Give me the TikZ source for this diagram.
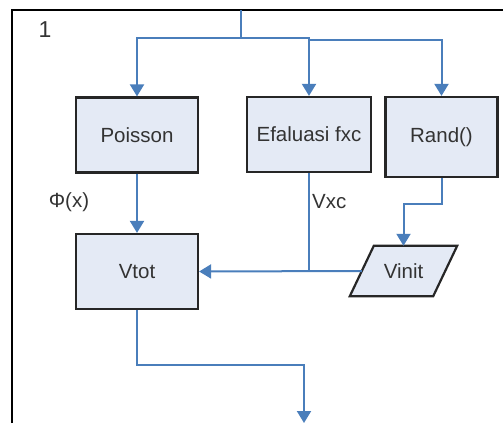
\documentclass[tikz,border=0pt]{standalone}
\usepackage{fontspec}
\setmainfont{Liberation Sans}
\usetikzlibrary{arrows.meta,calc}
\definecolor{flowblue}{HTML}{4A7EBB}
\definecolor{boxfill}{HTML}{E4EAF5}
\definecolor{boxline}{HTML}{262626}
\definecolor{txt}{HTML}{333333}
\tikzset{
  procbox/.style={draw=boxline, line width=2.2pt, fill=boxfill, text=txt,
    inner sep=0pt, font=\fontsize{20.5}{24}\selectfont},
  flow/.style={draw=flowblue, line width=2pt},
  flowarrow/.style={flow, -{Triangle[width=14pt,length=12pt]}},
  lbl/.style={text=txt, font=\fontsize{20.5}{24}\selectfont, inner sep=0pt},
}
\begin{document}
\begin{tikzpicture}[x=1pt, y=-1pt]
\useasboundingbox (0,0) rectangle (503,423);

% outer frame
\draw[line width=2.2pt, black] (12,423) -- (12,10) -- (503,10);
\node[lbl, font=\fontsize{23}{27}\selectfont] (num) at (45,30) {1};

% process boxes
\node[procbox, minimum width=122pt, minimum height=75pt] (poisson) at (137,135) {Poisson};
\node[procbox, minimum width=124pt, minimum height=75pt] (efal) at (309,134.5) {Efaluasi fxc};
\node[procbox, minimum width=112pt, minimum height=80pt] (rand) at (441.5,137) {Rand()};
\node[procbox, minimum width=122pt, minimum height=75pt] (vtot) at (137,271.5) {Vtot};

% input parallelogram
\node[lbl, minimum width=83pt, minimum height=50pt] (vinit) at (403.5,271) {};
\draw[procbox] ([xshift=-12pt]vinit.south west) -- ([xshift=-12pt]vinit.south east)
  -- ([xshift=12pt]vinit.north east) -- ([xshift=12pt]vinit.north west) -- cycle;
\node[lbl] at (vinit.center) {Vinit};

% labels
\node[lbl] (phi) at (69,202) {Φ(x)};
\node[lbl, anchor=west] (vxc) at (312,202) {Vxc};

% junctions
\coordinate (in) at (241,10);
\coordinate (split) at (241,38);
\coordinate (split2) at (309,40);
\coordinate (rbend) at (403.5,204);
\coordinate (out) at (304,423);

% connectors
\draw[flowarrow] (in) -- (split) -| (poisson.north);
\draw[flowarrow] (split) -| (efal.north);
\draw[flowarrow] (split2) -| (rand.north);
\draw[flowarrow] (poisson.south) -- (vtot.north);
\draw[flowarrow] (vinit.west) -- (vtot.east);
\draw[flow] (efal.south) -- (efal.south |- vtot.east);
\draw[flowarrow] (rand.south) |- (rbend) -- (vinit.north);
\draw[flowarrow] (vtot.south) |- ($(out)+(0,-58)$) -- (out);
\end{tikzpicture}
\end{document}
